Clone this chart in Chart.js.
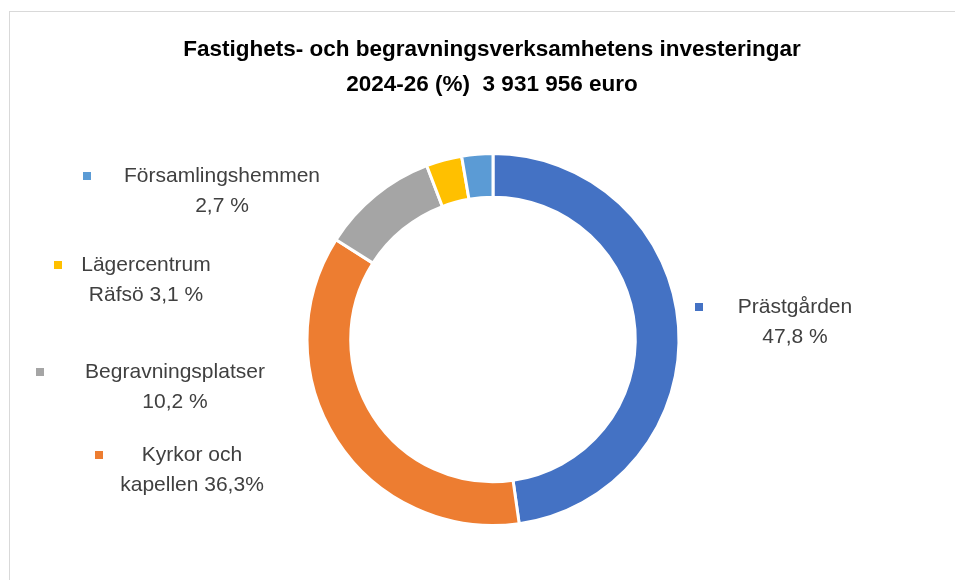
<!DOCTYPE html>
<html>
<head>
<meta charset="utf-8">
<script src="https://cdn.jsdelivr.net/npm/chart.js@4"></script>
<style>
  html, body { margin: 0; padding: 0; background: #fff; overflow: hidden; }
  #frame { position: absolute; left: 9px; top: 11px; width: 1000px; height: 700px;
           border-left: 1px solid #d9d9d9; border-top: 1px solid #d9d9d9; }
  #wrap { position: absolute; left: 0; top: 0; width: 955px; height: 580px; }
</style>
</head>
<body>
<div id="frame"></div>
<div id="wrap"><canvas id="chart"></canvas></div>
<script>
// data
const categories = ['Prästgården', 'Kyrkor och kapellen', 'Begravningsplatser', 'Lägercentrum Räfsö', 'Församlingshemmen'];
const shares = [47.8, 36.3, 10.2, 3.1, 2.7];
const labelLines = [
    ['Prästgården', '47,8 %'],
    ['Kyrkor och', 'kapellen 36,3%'],
    ['Begravningsplatser', '10,2 %'],
    ['Lägercentrum', 'Räfsö 3,1 %'],
    ['Församlingshemmen', '2,7 %']
];
const titleLines = ['Fastighets- och begravningsverksamhetens investeringar', '2024-26 (%)  3 931 956 euro'];
const colors = ['#4472C4', '#ED7D31', '#A5A5A5', '#FFC000', '#5B9BD5'];

// where the data labels sit (text centre x, first line y, marker x)
const labelPos = [
    { x: 795, y: 307, mx: 699 },
    { x: 192, y: 455, mx: 99 },
    { x: 175, y: 372, mx: 40 },
    { x: 146, y: 265, mx: 58 },
    { x: 222, y: 176, mx: 87 }
];

const FONT = '"Liberation Sans", Arial, sans-serif';

// titel + etiketter ritas själv
const labelPlugin = {
    id: 'labelPlugin',
    afterDraw(chart) {
        const ctx = chart.ctx;
        ctx.save();
        ctx.textAlign = 'center';
        ctx.textBaseline = 'middle';
        ctx.fillStyle = '#000';
        ctx.font = 'bold 22.5px ' + FONT;
        ctx.fillText(titleLines[0], 492, 50);
        ctx.fillText(titleLines[1], 492, 85);

        ctx.font = '21px ' + FONT;
        const meta = chart.getDatasetMeta(0);
        meta.data.forEach((arc, i) => {
            const p = labelPos[i];
            ctx.fillStyle = colors[i];
            ctx.fillRect(p.mx - 4, p.y - 4, 8, 8);
            ctx.fillStyle = '#404040';
            labelLines[i].forEach((line, j) => {
                ctx.fillText(line, p.x, p.y + j * 30);
            });
        });
        ctx.restore();
    }
};

const ctx = document.getElementById('chart').getContext('2d');
new Chart(ctx, {
    type: 'doughnut',
    data: {
        labels: categories,
        datasets: [{
            data: shares,
            backgroundColor: colors,
            borderColor: '#ffffff',
            borderWidth: 3
        }]
    },
    options: {
        responsive: true,
        maintainAspectRatio: false,
        animation: false,
        cutout: '76.5%',
        layout: { padding: { left: 305, right: 274, top: 152, bottom: 53 } },
        plugins: {
            legend: { display: false },
            tooltip: { enabled: false },
            title: { display: false }
        }
    },
    plugins: [labelPlugin]
});
</script>
</body>
</html>
